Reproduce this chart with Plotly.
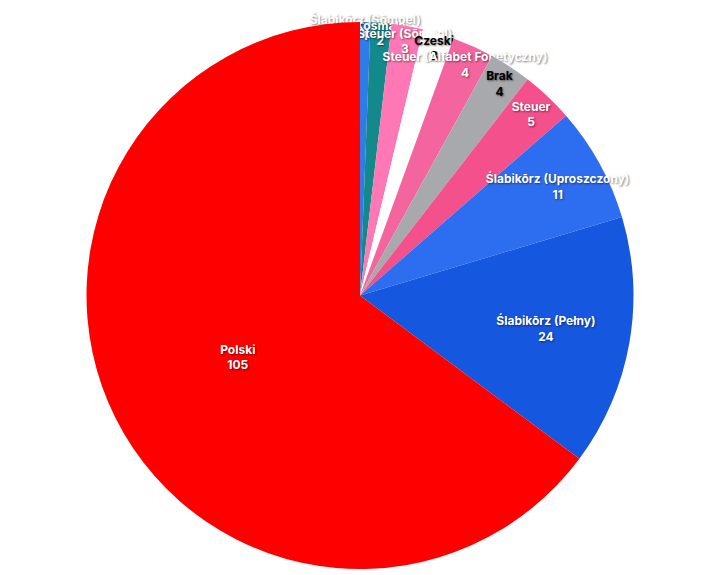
import plotly.graph_objects as go

labels = ["Ślabikōrz (Sōmpel)", "Kosmala", "Steuer (Sōmpel)", "Czeski", "Steuer (Alfabet Fonetyczny)",
          "Brak", "Steuer", "Ślabikōrz (Uproszczony)", "Ślabikōrz (Pełny)", "Polski"]
values = [1, 2, 3, 3, 4, 4, 5, 11, 24, 105]
colors = ["#2f7be8", "#13898c", "#ff78b5", "#ffffff", "#f4649f", "#a7a9ac", "#f4508b", "#2d6ef0", "#1657e0", "#ff0000"]
text_colors = ["white", "white", "white", "black", "white", "black", "white", "white", "white", "white"]

fig = go.Figure(go.Pie(
    labels=labels, values=values, sort=False, direction="clockwise", rotation=0,
    marker=dict(colors=colors),
    textposition="inside", insidetextorientation="horizontal",
    texttemplate="%{label}<br>%{value}",
    textfont=dict(family="Inter", size=12, color=text_colors, weight="bold",
                  shadow="1px 1px 2px rgba(0,0,0,0.5)"),
    showlegend=False, hoverinfo="label+value",
))
fig.update_layout(width=720, height=575, margin=dict(l=72, r=88, t=14, b=14),
                  paper_bgcolor="white", uniformtext=dict(minsize=12, mode="show"))
fig.write_html("out.html")
